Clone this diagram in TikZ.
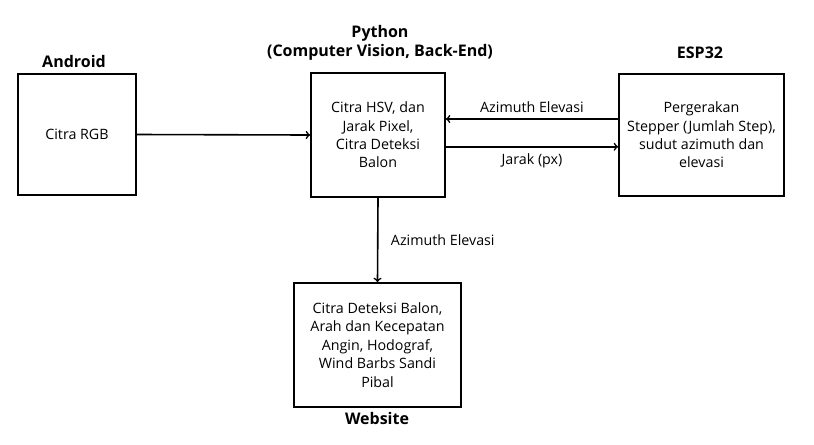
\documentclass[tikz,border=0pt]{standalone}
\usepackage{fontspec}
\setmainfont{Open Sans}
\begin{document}
\begin{tikzpicture}[x=0.75pt,y=-0.75pt,
        blok/.style={draw=black,line width=1.3pt,align=center,inner sep=2pt,font=\fontsize{10.7}{13.8}\selectfont},
        judul/.style={align=center,font=\bfseries\fontsize{12}{14.2}\selectfont},
        ket/.style={font=\fontsize{10.7}{12}\selectfont},
        panah/.style={->,line width=1.2pt}]
        \useasboundingbox (0,0) rectangle (814,444);
        \node[blok,minimum width=88.5pt,minimum height=90.75pt] (android) at (77,134.5) {Citra RGB};
        \node[blok,minimum width=100.5pt,minimum height=93pt] (python) at (378,135) {Citra HSV, dan\\Jarak Pixel,\\Citra Deteksi\\Balon};
        \node[blok,minimum width=123.75pt,minimum height=91.5pt] (esp) at (701.5,135) {Pergerakan\\Stepper (Jumlah Step),\\sudut azimuth dan\\elevasi};
        \node[blok,minimum width=125.25pt,minimum height=93pt] (web) at (377.5,345) {Citra Deteksi Balon,\\Arah dan Kecepatan\\Angin, Hodograf,\\Wind Barbs Sandi\\Pibal};
        \node[judul] (tandroid) at (74,61) {Android};
        \node[judul] (tpython) at (380,42.5) {Python\\(Computer Vision, Back-End)};
        \node[judul] (tesp) at (700,53) {ESP32};
        \node[judul] (tweb) at (377,418) {Website};
        \draw [panah] (android.east) -- (python.west);
        \draw [panah] ([yshift=12pt]esp.west) -- ([yshift=12pt]esp.west -| python.east) node[ket,midway,above=1pt] {Azimuth Elevasi};
        \draw [panah] ([yshift=-8.8pt]python.east) -- ([yshift=-8.8pt]python.east -| esp.west) node[ket,midway,below=1pt] {Jarak (px)};
        \draw [panah] (python.south) -- (web.north) node[ket,midway,right=6pt] {Azimuth Elevasi};
    \end{tikzpicture}
\end{document}
